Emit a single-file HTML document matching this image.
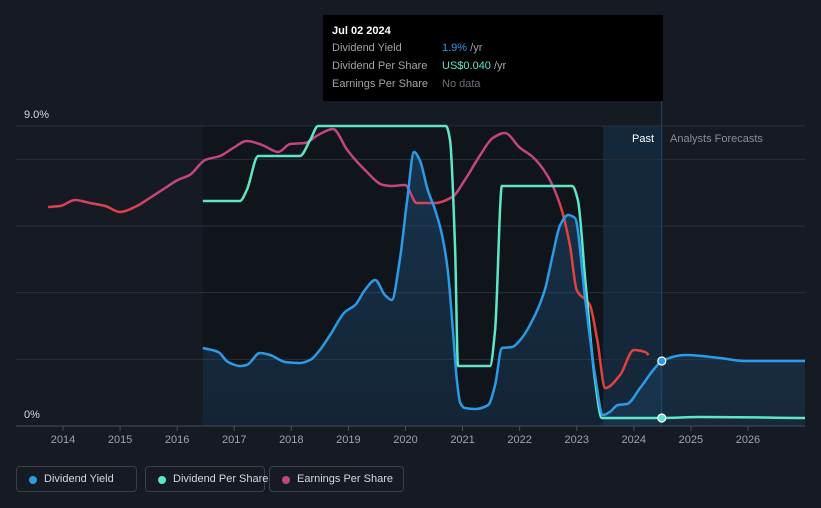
<!DOCTYPE html>
<html><head><meta charset="utf-8"><style>
body{margin:0;background:#151a23;font-family:"Liberation Sans",sans-serif;}
#wrap{position:relative;width:821px;height:508px;overflow:hidden;background:#151a23;}
.tip{position:absolute;left:323px;top:15px;width:340px;height:86px;background:#000;color:#fff;font-size:11px;}
.tip .t{position:absolute;left:9px;top:10px;font-weight:bold;font-size:11px;}
.tip .r{position:absolute;left:9px;color:#a0a4aa;white-space:nowrap;}
.tip .v{position:absolute;left:110px;white-space:nowrap;}
.leg{position:absolute;top:466px;height:26px;border:1px solid #3a3f48;border-radius:4px;color:#d6d8dc;font-size:11px;line-height:24px;box-sizing:border-box;padding-left:27px;white-space:nowrap;}
.leg i{position:absolute;left:12px;top:9px;width:8px;height:8px;border-radius:50%;}
</style></head><body>
<div id="wrap">
<svg id="chart" width="821" height="508" style="position:absolute;left:0;top:0"></svg>
<div class="tip">
<div class="t">Jul 02 2024</div>
<div class="r" style="top:27px">Dividend Yield<span class="v" style="color:#2b9be8">1.9%<span style="color:#a0a4aa"> /yr</span></span></div>
<div class="r" style="top:45px">Dividend Per Share<span class="v" style="color:#5ee6c8">US$0.040<span style="color:#a0a4aa"> /yr</span></span></div>
<div class="r" style="top:63px">Earnings Per Share<span class="v" style="color:#6a6e75">No data</span></div>
</div>
<div class="leg" style="left:16px;width:121px"><i style="background:#2b9be8"></i>Dividend Yield</div>
<div class="leg" style="left:145px;width:120px"><i style="background:#5ee6c8"></i>Dividend Per Share</div>
<div class="leg" style="left:269px;width:135px"><i style="background:#c2457f"></i>Earnings Per Share</div>
</div>
<script>
const yieldYears=[2016.45,2016.72,2016.89,2017.10,2017.22,2017.45,2017.63,2017.89,2018.15,2018.33,2018.50,2018.68,2018.94,2019.12,2019.29,2019.47,2019.64,2019.76,2019.90,2020.03,2020.15,2020.25,2020.39,2020.52,2020.64,2020.74,2020.83,2020.90,2020.96,2021.04,2021.22,2021.45,2021.57,2021.69,2021.87,2022.01,2022.27,2022.44,2022.58,2022.71,2022.85,2022.97,2023.15,2023.32,2023.46,2023.58,2023.72,2023.88,2024.11,2024.37,2024.49,2024.90,2025.51,2025.95,2027.0];
const yieldVals=[2.34,2.22,1.92,1.80,1.83,2.19,2.13,1.92,1.89,1.98,2.28,2.73,3.42,3.63,4.08,4.38,3.93,3.78,4.98,6.78,8.22,7.98,7.08,6.48,5.73,4.68,2.88,1.38,0.69,0.54,0.51,0.63,1.23,2.34,2.37,2.58,3.33,4.08,5.13,6.03,6.33,6.24,3.78,1.53,0.33,0.42,0.63,0.66,1.14,1.74,1.95,2.13,2.04,1.95,1.95];
const dpsYears=[2016.45,2017.10,2017.22,2017.42,2018.15,2018.33,2018.47,2020.71,2020.78,2020.87,2020.92,2021.48,2021.57,2021.69,2022.92,2023.02,2023.15,2023.32,2023.44,2024.49,2025.16,2027.0];
const dpsVals=[6.75,6.75,7.08,8.1,8.1,8.58,9.0,9.0,8.58,5.28,1.8,1.8,2.88,7.2,7.2,6.78,4.38,1.38,0.24,0.24,0.27,0.24];
const epsYears=[2013.74,2013.95,2014.21,2014.47,2014.74,2015.0,2015.26,2015.52,2015.79,2016.01,2016.22,2016.49,2016.75,2016.98,2017.22,2017.49,2017.77,2017.98,2018.24,2018.47,2018.73,2018.98,2019.29,2019.61,2019.76,2019.99,2020.20,2020.52,2020.82,2021.04,2021.31,2021.53,2021.74,2022.01,2022.23,2022.48,2022.71,2022.88,2023.0,2023.23,2023.36,2023.50,2023.76,2024.0,2024.20,2024.26];
const epsVals=[6.57,6.6,6.78,6.69,6.6,6.42,6.57,6.84,7.14,7.38,7.53,7.98,8.1,8.34,8.55,8.43,8.22,8.46,8.49,8.73,8.91,8.28,7.68,7.23,7.2,7.23,6.69,6.69,6.87,7.38,8.13,8.64,8.79,8.34,8.07,7.53,6.63,5.43,4.08,3.63,2.58,1.14,1.53,2.28,2.22,2.13];
const xTicks=[2014,2015,2016,2017,2018,2019,2020,2021,2022,2023,2024,2025,2026];
const gridVals=[0,2,4,6,8,9];
const nowYear=2024.49;

const X=y=>63+(y-2014)*57.08;
const Y=v=>426-v*33.333;
const svg=document.getElementById('chart');
const NS='http://www.w3.org/2000/svg';
function mk(t,a,p){const e=document.createElementNS(NS,t);for(const k in a)e.setAttribute(k,a[k]);(p||svg).appendChild(e);return e;}
function path(xs,vs){const p=xs.map((x,i)=>[X(x),Y(vs[i])]);const n=p.length;
const d=[],m=[];for(let i=0;i<n-1;i++)d.push((p[i+1][1]-p[i][1])/(p[i+1][0]-p[i][0]));
for(let i=0;i<n;i++){if(i===0)m.push(d[0]);else if(i===n-1)m.push(d[n-2]);else if(d[i-1]*d[i]<=0)m.push(0);else{const h0=p[i][0]-p[i-1][0],h1=p[i+1][0]-p[i][0];m.push(3*(h0+h1)/((2*h1+h0)/d[i-1]+(h1+2*h0)/d[i]));}}
let s='M'+p[0][0]+','+p[0][1];
for(let i=0;i<n-1;i++){const h=(p[i+1][0]-p[i][0])/3;s+=' C'+(p[i][0]+h)+','+(p[i][1]+m[i]*h)+' '+(p[i+1][0]-h)+','+(p[i+1][1]-m[i+1]*h)+' '+p[i+1][0]+','+p[i+1][1];}
return s;}

const defs=mk('defs',{});
const lg=mk('linearGradient',{id:'epsg',gradientUnits:'userSpaceOnUse',x1:0,y1:192,x2:0,y2:210},defs);
mk('stop',{offset:0,'stop-color':'#c2457f'},lg);mk('stop',{offset:1,'stop-color':'#e2423f'},lg);
const ag=mk('linearGradient',{id:'areag',x1:0,y1:0,x2:0,y2:1},defs);
mk('stop',{offset:0,'stop-color':'#1e5a8c','stop-opacity':0.45},ag);mk('stop',{offset:1,'stop-color':'#1e4a70','stop-opacity':0.3},ag);

let r=mk('rect',{x:X(2016.45),y:126,width:X(2023.46)-X(2016.45),height:300,fill:'#10141b'});

r=mk('rect',{x:X(2023.46),y:126,width:X(nowYear)-X(2023.46),height:300,fill:'#16304a','fill-opacity':0.6});

r=mk('line',{x1:X(nowYear),x2:X(nowYear),y1:101,y2:426,stroke:'#1f4a6e','stroke-width':1});


gridVals.forEach(v=>{const l=mk('line',{x1:16,x2:805,y1:Y(v),y2:Y(v),stroke:v===0?'#4a4f58':'#2a2f38','stroke-width':1});
});
let t=mk('text',{x:24,y:118,fill:'#d6d8dc','font-size':11});t.textContent='9.0%';

t=mk('text',{x:24,y:418,fill:'#d6d8dc','font-size':11});t.textContent='0%';

xTicks.forEach(y=>{const l=mk('line',{x1:X(y),x2:X(y),y1:426,y2:431,stroke:'#4a4f58'});

const tx=mk('text',{x:X(y),y:443,fill:'#a0a4aa','font-size':11,'text-anchor':'middle'});tx.textContent=y;
});
t=mk('text',{x:654,y:142,fill:'#ffffff','font-size':11,'text-anchor':'end'});t.textContent='Past';

t=mk('text',{x:670,y:142,fill:'#8a8e95','font-size':11});t.textContent='Analysts Forecasts';


const yp=path(yieldYears,yieldVals);
let a=mk('path',{d:yp+' L'+X(yieldYears[yieldYears.length-1])+',426 L'+X(yieldYears[0])+',426 Z',fill:'url(#areag)'});

a=mk('path',{d:path(epsYears,epsVals),fill:'none',stroke:'url(#epsg)','stroke-width':2.5});

a=mk('path',{d:path(dpsYears,dpsVals),fill:'none',stroke:'#5ee6c8','stroke-width':2.5});

a=mk('path',{d:yp,fill:'none',stroke:'#2b9be8','stroke-width':2.5});

const yi=yieldYears.indexOf(nowYear),di=dpsYears.indexOf(nowYear);
a=mk('circle',{cx:X(nowYear),cy:Y(yieldVals[yi]),r:4,fill:'#2b9be8',stroke:'#fff','stroke-width':1.2});

a=mk('circle',{cx:X(nowYear),cy:Y(dpsVals[di]),r:4,fill:'#5ee6c8',stroke:'#fff','stroke-width':1.2});

</script>
</body></html>
